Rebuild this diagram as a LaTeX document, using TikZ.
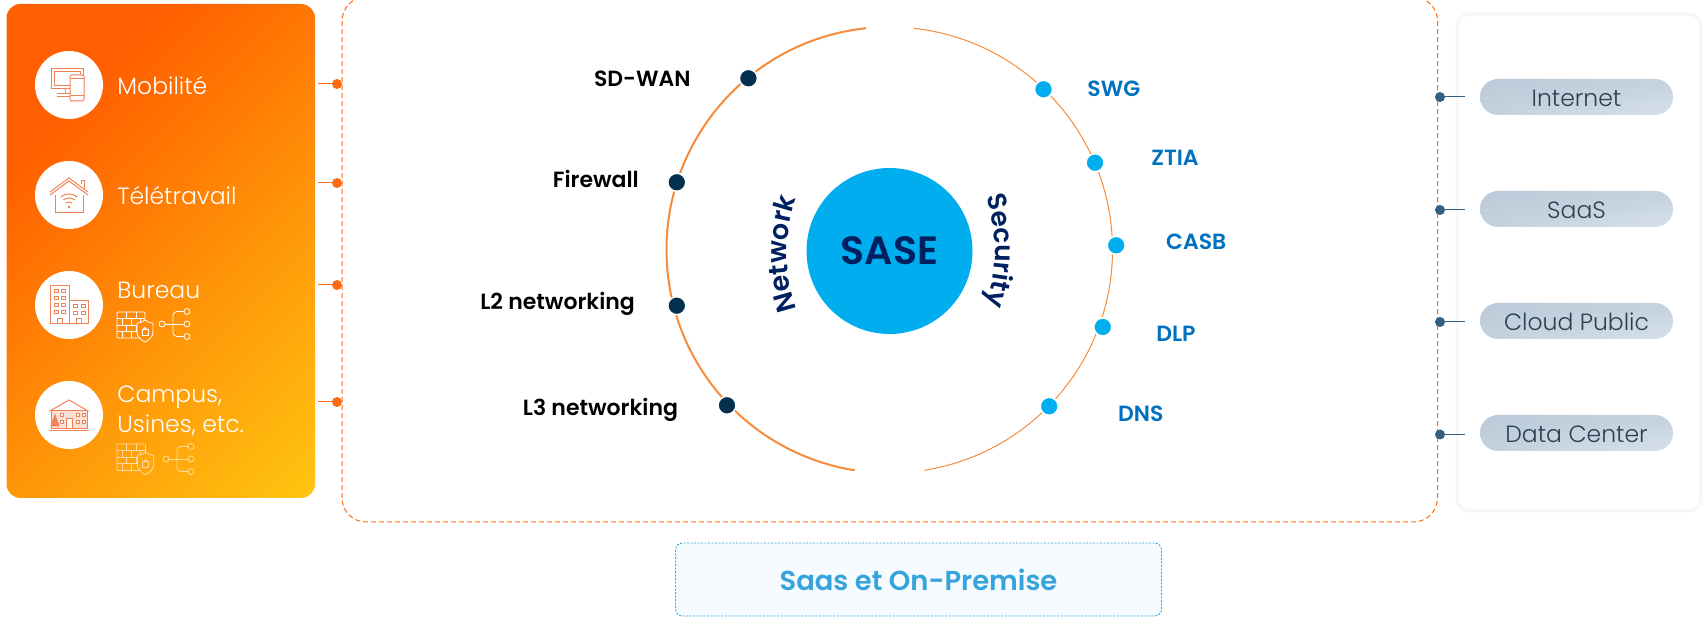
\documentclass[tikz,border=0pt]{standalone}
\usepackage{fontspec}
\setmainfont{Poppins Light}[BoldFont={Poppins SemiBold}]
\usetikzlibrary{positioning,shadings,decorations.text}
\definecolor{sasenavy}{HTML}{002060}
\definecolor{saseblue}{HTML}{00AEEF}
\definecolor{labelblue}{HTML}{0070C0}
\definecolor{darkdot}{HTML}{04304F}
\definecolor{ringorange}{HTML}{F68B3C}
\definecolor{linkorange}{HTML}{FF6A13}
\definecolor{iconorange}{HTML}{F0825A}
\definecolor{cloudline}{HTML}{335F80}
\definecolor{pilltext}{HTML}{2B3F50}
\definecolor{boxblue}{HTML}{36A3DC}
\definecolor{boxfill}{HTML}{F5FBFE}
\definecolor{pillA}{HTML}{B9CAD8}
\definecolor{pillB}{HTML}{C4D2DE}
\definecolor{pillC}{HTML}{D6E0E9}
\definecolor{shieldA}{HTML}{FF8C08}
\definecolor{shieldB}{HTML}{FFA80C}
\definecolor{sitesA}{HTML}{FF5F00}
\definecolor{sitesB}{HTML}{FF8606}
\definecolor{sitesC}{HTML}{FFC510}
\pgfdeclareverticalshading{sitesfade}{100bp}{
  color(0bp)=(sitesA);
  color(29bp)=(sitesA);
  color(50bp)=(sitesB);
  color(85bp)=(sitesC);
  color(100bp)=(sitesC)}
\tikzset{
  iconbg/.style={circle, fill=white, minimum size=68pt, inner sep=0pt},
  sitelabel/.style={text=white, font=\fontsize{23.5}{30}\selectfont, inner sep=0pt, align=left},
  netdot/.style={circle, fill=darkdot, draw=white, line width=1.5pt, minimum size=18pt, inner sep=0pt},
  secdot/.style={circle, fill=saseblue, draw=white, line width=1.5pt, minimum size=18pt, inner sep=0pt},
  netlabel/.style={text=black, font=\fontsize{22}{25}\selectfont\bfseries, inner sep=0pt},
  seclabel/.style={text=labelblue, font=\fontsize{22}{25}\selectfont\bfseries, inner sep=0pt},
  sitedot/.style={circle, fill=linkorange, minimum size=10pt, inner sep=0pt},
  clouddot/.style={circle, fill=cloudline, minimum size=10pt, inner sep=0pt},
  pillbox/.style={rounded corners=18pt, minimum width=193pt, minimum height=36pt, inner sep=0pt,
    text=pilltext, font=\fontsize{23.5}{26}\selectfont, text height=20pt, text depth=1pt,
    upper left=pillA, lower left=pillB, upper right=pillB, lower right=pillC},
  iconline/.style={draw=iconorange, line width=1pt},
  whiteline/.style={draw=white, line width=0.8pt},
}
% brick wall with a shield
\newcommand{\wallicon}[3]{
  \begin{scope}[shift={(#1)}, whiteline, #2]
    \draw[rounded corners=1pt] (0,0) rectangle (28,-26);
    \foreach \y in {-6.5,-13,-19.5} \draw (0,\y) -- (28,\y);
    \foreach \x in {9,19} {\draw (\x,0) -- (\x,-6.5); \draw (\x,-13) -- (\x,-19.5);}
    \foreach \x in {5,14,23} {\draw (\x,-6.5) -- (\x,-13); \draw (\x,-19.5) -- (\x,-26);}
    \draw[fill=#3] (28,-8) .. controls (32,-11) and (34,-11) .. (36,-11)
      -- (36,-20) .. controls (36,-25) and (32,-28) .. (28,-30)
      .. controls (24,-28) and (20,-25) .. (20,-20) -- (20,-11)
      .. controls (22,-11) and (24,-11) .. (28,-8);
    \draw (25,-17) rectangle (31,-23);
    \draw (26.5,-17) arc (180:0:1.5);
  \end{scope}
}
% little tree of links
\newcommand{\treeicon}[2]{
  \begin{scope}[shift={(#1)}, whiteline, #2]
    \draw (0,0) circle (3);
    \draw (3,0) -- (22,0);
    \draw[rounded corners=4pt] (22,12.5) -- (11,12.5) -- (11,-12.5) -- (22,-12.5);
    \foreach \y in {12.5,0,-12.5} \draw (25,\y) circle (3);
  \end{scope}
}
\begin{document}
\begin{tikzpicture}[x=1pt, y=1pt]
  \useasboundingbox (0,0) rectangle (1703,618);
  % sites panel
  \shade[rounded corners=14pt, shading=sitesfade, shading angle=225] (6.5,120) rectangle (315,614);
  \node(mobile) [iconbg] at (69,533) {};
  \node(home) [iconbg] at (69,423) {};
  \node(office) [iconbg] at (69,313) {};
  \node(campus) [iconbg] at (69,203) {};
  \node(mobilelabel) [sitelabel, right=14pt of mobile, yshift=-1pt] {Mobilité};
  \node(homelabel) [sitelabel, right=14pt of home, yshift=-1pt] {Télétravail};
  \node(officelabel) [sitelabel, right=14pt of office, yshift=15pt] {Bureau};
  \node(campuslabel) [sitelabel, right=14pt of campus, yshift=4pt] {Campus,\\Usines, etc.};
  % devices
  \begin{scope}[shift={(mobile.center)}, iconline]
    \draw (-18,16) rectangle (14,-4);
    \draw (-15,13) rectangle (11,-1);
    \draw (-4,-4) -- (-4,-9);
    \draw (-12,-9) -- (2,-9);
    \draw (-12,-12) -- (2,-12);
    \draw[fill=white, rounded corners=1.5pt] (1,10) rectangle (15,-16);
    \draw (1,6) -- (15,6);
    \draw (1,-11) -- (15,-11);
  \end{scope}
  % house
  \begin{scope}[shift={(home.center)}, iconline]
    \draw (-19,3) -- (0,17) -- (19,3);
    \draw (-19,0) -- (0,14) -- (19,0);
    \draw (-14,0) -- (-14,-18) -- (14,-18) -- (14,0);
    \draw (12,11) -- (12,14) -- (15,14) -- (15,5);
    \foreach \r in {5,9,13} \draw (-0.64*\r,0.77*\r-12) arc (130:50:\r);
    \fill[iconorange] (0,-12) circle (1.5);
  \end{scope}
  % buildings
  \begin{scope}[shift={(office.center)}, iconline]
    \draw (-19,19) rectangle (0,-19);
    \draw (0,4) rectangle (19,-19);
    \foreach \y in {12,5,-2,-9} {\draw (-15,\y) rectangle +(4,3); \draw (-8,\y) rectangle +(4,3);}
    \foreach \y in {-3,-10} {\draw (4,\y) rectangle +(4,3); \draw (12,\y) rectangle +(4,3);}
    \draw (-12,-19) rectangle (-7,-14);
    \draw (7,-19) rectangle (12,-14);
  \end{scope}
  % campus
  \begin{scope}[shift={(campus.center)}, iconline]
    \draw (-19,4) -- (0,15) -- (19,4) -- cycle;
    \draw[fill=iconorange!25] (-18,4) rectangle (18,-14);
    \draw (-20,-15.5) -- (20,-15.5);
    \draw[fill=white] (-3,-14) rectangle (3,-4);
    \foreach \x in {-9,7,13} {\draw[fill=white] (\x,1) rectangle +(3,-3); \draw[fill=white] (\x,-6) rectangle +(3,-3);}
    \draw[fill=iconorange] (-14,0) -- (-10,-11) -- (-18,-11) -- cycle;
  \end{scope}
  \wallicon{117,306}{}{shieldA}
  \treeicon{162,294}{}
  \wallicon{117,174}{draw opacity=0.6, scale=1.02}{shieldB}
  \treeicon{166,159}{draw opacity=0.6}
  % main frame
  \draw[linkorange, line width=1pt, dash pattern=on 5pt off 3pt, rounded corners=24pt] (342,96) rectangle (1437.5,621);
  % site links
  \coordinate(mobileend) at (318,534);
  \coordinate(homeend) at (318,435);
  \coordinate(officeend) at (318,333);
  \coordinate(campusend) at (318,216);
  \node(mobiledot) [sitedot] at (337,534) {};
  \node(homedot) [sitedot] at (337,435) {};
  \node(officedot) [sitedot] at (337,333) {};
  \node(campusdot) [sitedot] at (337,216) {};
  \draw[linkorange, line width=1pt] (mobileend) -- (mobiledot);
  \draw[linkorange, line width=1pt] (homeend) -- (homedot);
  \draw[linkorange, line width=1pt] (officeend) -- (officedot);
  \draw[linkorange, line width=1pt] (campusend) -- (campusdot);
  % ring
  \draw[ringorange, line width=2pt] (889.5,368) ++(96:223) arc (96:261:223);
  \draw[ringorange, line width=1pt] (889.5,368) ++(83.7:223) arc (83.7:-81:223);
  \node(sase) [circle, fill=saseblue, minimum size=166pt, inner sep=0pt, text=sasenavy,
    font=\fontsize{39.5}{50}\selectfont\bfseries] at (889.5,367) {SASE};
  \path[decorate, decoration={text along path, text align=center,
    text={|\fontsize{27}{30}\selectfont\bfseries\color{sasenavy}|Network}}]
    (957,364) ++(201:170) arc (201:159:170);
  \path[decorate, decoration={text along path, text align=center,
    text={|\fontsize{26.5}{30}\selectfont\bfseries\color{sasenavy}|Security}}]
    (825,367) ++(20:170) arc (20:-20:170);
  \node(sdwandot) [netdot] at (748.4,539.7) {};
  \node(firewalldot) [netdot] at (676.8,435.7) {};
  \node(ltwodot) [netdot] at (676.8,312.3) {};
  \node(lthreedot) [netdot] at (727,212.7) {};
  \node(sdwan) [netlabel, left=48pt of sdwandot] {SD-WAN};
  \node(firewall) [netlabel, left=28pt of firewalldot, yshift=3pt] {Firewall};
  \node(ltwo) [netlabel, left=32pt of ltwodot, yshift=2pt] {L2 networking};
  \node(lthree) [netlabel, left=39pt of lthreedot, yshift=-5pt] {L3 networking};
  \node(swgdot) [secdot] at (1043.5,528.7) {};
  \node(ztiadot) [secdot] at (1095,455.3) {};
  \node(casbdot) [secdot] at (1116.2,372.7) {};
  \node(dlpdot) [secdot] at (1102.8,291) {};
  \node(dnsdot) [secdot] at (1049.2,211.7) {};
  \node(swg) [seclabel, right=34pt of swgdot, yshift=1pt] {SWG};
  \node(ztia) [seclabel, right=46.5pt of ztiadot, yshift=5pt] {ZTIA};
  \node(casb) [seclabel, right=40pt of casbdot, yshift=4pt] {CASB};
  \node(dlp) [seclabel, right=43.5pt of dlpdot, yshift=-6.5pt] {DLP};
  \node(dns) [seclabel, right=59pt of dnsdot, yshift=-7.5pt] {DNS};
  % clouds panel
  \foreach \w in {7,5,3}
    \draw[black!3, line width=\w pt, rounded corners=10pt] (1459,109) rectangle (1699,602);
  \fill[white, rounded corners=10pt] (1459,109) rectangle (1699,602);
  \node(internet) [pillbox] at (1576.5,521) {Internet};
  \node(saas) [pillbox] at (1576.5,409) {SaaS};
  \node(public) [pillbox] at (1576.5,297) {Cloud Public};
  \node(datacenter) [pillbox] at (1576.5,185) {Data Center};
  \node(internetdot) [clouddot] at (1440,521) {};
  \node(saasdot) [clouddot] at (1440,408) {};
  \node(publicdot) [clouddot] at (1440,296) {};
  \node(datacenterdot) [clouddot] at (1440,183.5) {};
  \coordinate(internetend) at (1464.5,521);
  \coordinate(saasend) at (1464.5,408);
  \coordinate(publicend) at (1464.5,296);
  \coordinate(datacenterend) at (1464.5,183.5);
  \draw[cloudline, line width=1pt] (internetdot) -- (internetend);
  \draw[cloudline, line width=1pt] (saasdot) -- (saasend);
  \draw[cloudline, line width=1pt] (publicdot) -- (publicend);
  \draw[cloudline, line width=1pt] (datacenterdot) -- (datacenterend);
  % deployment box
  \node(deploy) [draw=boxblue, line width=0.9pt, dash pattern=on 2pt off 1.5pt, fill=boxfill, rounded corners=7pt, minimum width=486pt,
    minimum height=73pt, text=boxblue, font=\fontsize{27.4}{30}\selectfont\bfseries] at (918.5,38.5) {Saas et On-Premise};
\end{tikzpicture}
\end{document}
